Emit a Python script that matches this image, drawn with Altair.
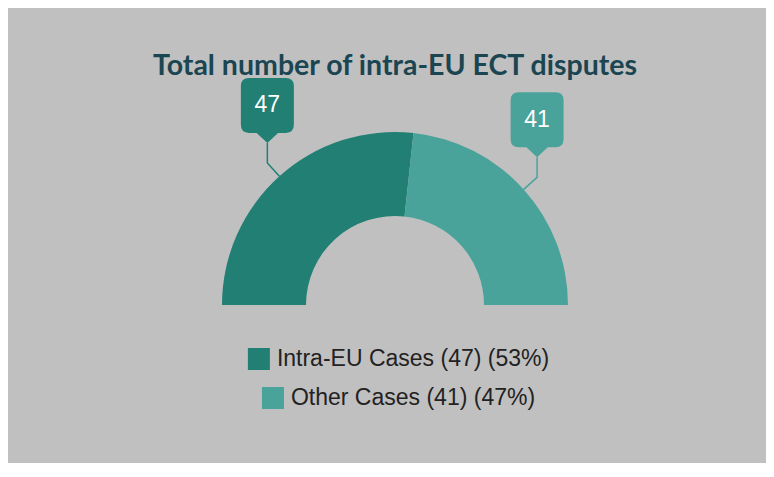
import math
import altair as alt
import pandas as pd

# ---- data ----
categories = ["Intra-EU Cases", "Other Cases"]
values = [47, 41]
colors = ["#217f74", "#4aa39a"]
title_text = "Total number of intra-EU ECT disputes"

# ---- layout ----
W, H = 758, 455
CX, CY = 387, 297
R_OUT, R_IN = 173, 89
ELBOW = 18
STEM = 20
BOX_S = 32.5  # half-extent of callout symbol
LEG_CX = 390.5
LEG_Y0, LEG_DY = 351, 39
LEG_FS = 23
SQ = 22
GAP = 7

# Arial / Liberation Sans advance widths (per 1000 em) for legend centring
ARIAL_W = {" ": 278, "(": 333, ")": 333, "%": 889, "-": 333, "I": 278, "E": 667, "U": 722,
           "C": 722, "O": 778, "a": 556, "e": 556, "h": 556, "n": 556, "r": 333, "s": 500,
           "t": 278}


def text_width(s, fs):
    return sum(ARIAL_W.get(ch, 556) for ch in s) * fs / 1000


total = sum(values)
labels = [f"{c} ({v}) ({round(v / total * 100)}%)" for c, v in zip(categories, values)]

df = pd.DataFrame({"label": labels, "value": values, "order": list(range(len(values)))})
df["cum"] = df["value"].cumsum() - df["value"]
df["mid"] = (df["cum"] + df["value"] / 2) / total * math.pi - math.pi / 2
df["ax"] = CX + R_OUT * df["mid"].apply(math.sin)
df["ay"] = CY - R_OUT * df["mid"].apply(math.cos)
df["ex"] = df["ax"] + ELBOW * df["mid"].apply(math.sin)
df["ey"] = df["ay"] - ELBOW * df["mid"].apply(math.cos)
df["tx"] = df["ex"]
df["ty"] = df["ey"] - STEM
df["bx"] = df["tx"]
df["by"] = df["ty"] - BOX_S
df["texty"] = df["by"] - 5

# legend rows, each centred on its own
row_w = [SQ + GAP + text_width(l, LEG_FS) for l in labels]
df["leg_y"] = [LEG_Y0 + i * LEG_DY for i in range(len(labels))]
df["sq_x"] = [LEG_CX - w / 2 + SQ / 2 for w in row_w]
df["lab_x"] = [LEG_CX - w / 2 + SQ + GAP for w in row_w]

rows = []
for _, r in df.iterrows():
    rows.append({"label": r["label"], "seq": 0, "x": r["ax"], "y": r["ay"]})
    rows.append({"label": r["label"], "seq": 1, "x": r["ex"], "y": r["ey"]})
    rows.append({"label": r["label"], "seq": 2, "x": r["tx"], "y": r["ty"]})
lines_df = pd.DataFrame(rows)

color_scale = alt.Scale(domain=labels, range=colors)

arc = alt.Chart(df).mark_arc(innerRadius=R_IN, outerRadius=R_OUT).encode(
    theta=alt.Theta("value:Q", stack=True, scale=alt.Scale(range=[-math.pi / 2, math.pi / 2])),
    color=alt.Color("label:N", scale=color_scale, legend=None),
    order=alt.Order("order:Q"),
    x=alt.value(CX),
    y=alt.value(CY),
)

leader = alt.Chart(lines_df).mark_line(strokeWidth=1.5).encode(
    x=alt.X("x:Q", scale=None, axis=None),
    y=alt.Y("y:Q", scale=None, axis=None),
    color=alt.Color("label:N", scale=color_scale, legend=None),
    detail="label:N",
    order="seq:Q",
)

callout_path = (
    "M-0.565,-1 L0.565,-1 Q0.815,-1 0.815,-0.75 L0.815,0.442 Q0.815,0.692 0.565,0.692 "
    "L0.33,0.692 L0,1 L-0.33,0.692 L-0.565,0.692 Q-0.815,0.692 -0.815,0.442 "
    "L-0.815,-0.75 Q-0.815,-1 -0.565,-1 Z"
)

callout = alt.Chart(df).mark_point(
    shape=callout_path, size=(2 * BOX_S) ** 2, filled=True, opacity=1, strokeWidth=0
).encode(
    x=alt.X("bx:Q", scale=None, axis=None),
    y=alt.Y("by:Q", scale=None, axis=None),
    color=alt.Color("label:N", scale=color_scale, legend=None),
)

callout_text = alt.Chart(df).mark_text(
    font="Liberation Sans", fontSize=23, color="white", align="center", baseline="middle"
).encode(
    x=alt.X("bx:Q", scale=None, axis=None),
    y=alt.Y("texty:Q", scale=None, axis=None),
    text="value:Q",
)

leg_sq = alt.Chart(df).mark_square(size=SQ * SQ, opacity=1, strokeWidth=0).encode(
    x=alt.X("sq_x:Q", scale=None, axis=None),
    y=alt.Y("leg_y:Q", scale=None, axis=None),
    color=alt.Color("label:N", scale=color_scale, legend=None),
)

leg_text = alt.Chart(df).mark_text(
    font="Liberation Sans", fontSize=LEG_FS, color="#222222", align="left", baseline="middle"
).encode(
    x=alt.X("lab_x:Q", scale=None, axis=None),
    y=alt.Y("leg_y:Q", scale=None, axis=None),
    text="label:N",
)

title = alt.Chart(pd.DataFrame({"t": [title_text]})).mark_text(
    font="Lato", fontWeight="bold", fontSize=28.5, color="#1b4551", align="center", baseline="alphabetic"
).encode(x=alt.value(CX), y=alt.value(67), text="t:N")

chart = alt.layer(arc, leader, callout, callout_text, leg_sq, leg_text, title).properties(
    width=W, height=H, background="#c0c0c0", padding=0,
    autosize=alt.AutoSizeParams(type="none"),
).configure_view(stroke=None)

chart.save("out.html", embed_options={"renderer": "svg", "actions": False})
